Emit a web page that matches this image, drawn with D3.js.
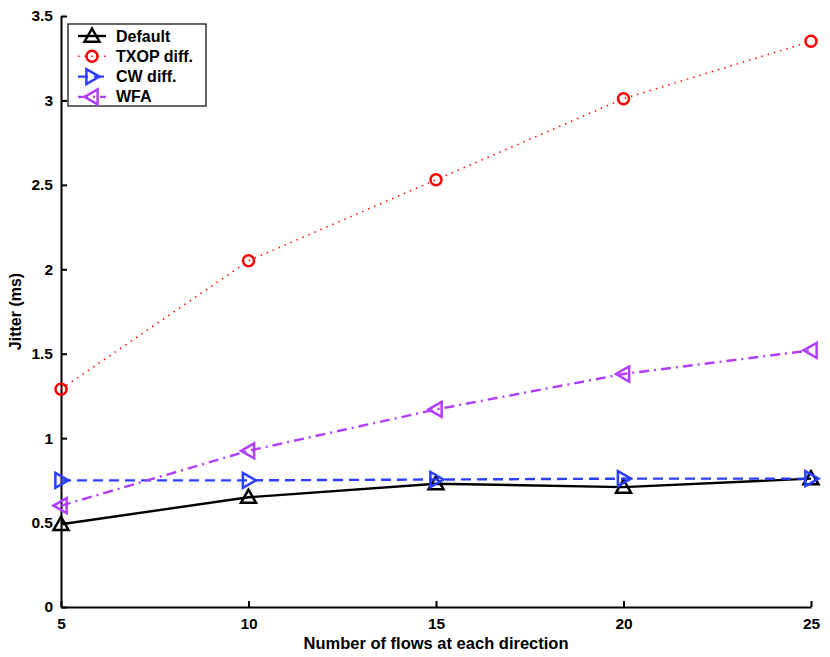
<!DOCTYPE html>
<html>
<head>
<meta charset="utf-8">
<script src="https://cdn.jsdelivr.net/npm/d3@7"></script>
<style>
  body { margin: 0; background: #fff; }
  text { font-family: "Liberation Sans", Arial, sans-serif; font-weight: bold; }
</style>
</head>
<body>
<div id="root"></div>
<script>
// flows per direction
const flows = [5, 10, 15, 20, 25];

const defaultJitter = [0.49, 0.65, 0.73, 0.71, 0.76];
const txopJitter    = [1.29, 2.05, 2.53, 3.01, 3.35];
const cwJitter      = [0.75, 0.75, 0.755, 0.76, 0.76];
const wfaJitter     = [0.60, 0.925, 1.17, 1.38, 1.52];

const yTicks = [0, 0.5, 1, 1.5, 2, 2.5, 3, 3.5];

const series = [
  { name: "Default",    values: defaultJitter, color: "#000000", dash: null,        marker: "up" },
  { name: "TXOP diff.", values: txopJitter,    color: "#ff0000", dash: "1.5,5",     marker: "circle" },
  { name: "CW diff.",   values: cwJitter,      color: "#2a3fff", dash: "10,6",      marker: "right" },
  { name: "WFA",        values: wfaJitter,     color: "#b13dff", dash: "10,5,2,5",  marker: "left" }
];

const width = 830, height = 657;
const margin = { left: 61, right: 19, top: 16, bottom: 50 };

const svg = d3.select('#root').append('svg')
  .attr('width', width)
  .attr('height', height);

const x = d3.scaleLinear().domain([5, 25]).range([margin.left, width - margin.right]);
const y = d3.scaleLinear().domain([0, 3.5]).range([height - margin.bottom, margin.top]);

// axes, ticks pointing in
const xAxis = svg.append('g')
  .attr('transform', 'translate(0,' + y(0) + ')')
  .call(d3.axisBottom(x).tickValues(flows).tickSizeInner(-6).tickSizeOuter(0).tickPadding(11));
const yAxis = svg.append('g')
  .attr('transform', 'translate(' + x(5) + ',0)')
  .call(d3.axisLeft(y).tickValues(yTicks).tickFormat(d3.format('')).tickSizeInner(-6).tickSizeOuter(0).tickPadding(8));

[xAxis, yAxis].forEach(function (a) {
  a.select('.domain').attr('stroke', '#000').attr('stroke-width', 2);
  a.selectAll('.tick line').attr('stroke', '#000').attr('stroke-width', 2);
  a.selectAll('.tick text').attr('fill', '#000').style('font-size', '15.5px');
});

svg.append('text')
  .attr('x', (x(5) + x(25)) / 2)
  .attr('y', 649)
  .attr('text-anchor', 'middle')
  .style('font-size', '16.5px')
  .text('Number of flows at each direction');

svg.append('text')
  .attr('transform', 'translate(21,' + (y(0) + y(3.5)) / 2 + ') rotate(-90)')
  .attr('text-anchor', 'middle')
  .style('font-size', '16px')
  .text('Jitter (ms)');

function drawMarker(g, type, color) {
  const s = 7.5;
  if (type === 'circle') {
    g.append('circle').attr('r', 5.5).attr('fill', 'none').attr('stroke', color).attr('stroke-width', 2.5);
    return;
  }
  let pts;
  if (type === 'up') pts = [[0, -s], [-s, s * 0.75], [s, s * 0.75]];
  if (type === 'right') pts = [[s, 0], [-s * 0.75, -s], [-s * 0.75, s]];
  if (type === 'left') pts = [[-s, 0], [s * 0.75, -s], [s * 0.75, s]];
  g.append('polygon')
    .attr('points', pts.map(function (p) { return p.join(','); }).join(' '))
    .attr('fill', 'none').attr('stroke', color).attr('stroke-width', 2.5)
    .attr('stroke-linejoin', 'miter');
}

const line = d3.line()
  .x(function (d, i) { return x(flows[i]); })
  .y(function (d) { return y(d); });

series.forEach(function (s) {
  svg.append('path')
    .attr('d', line(s.values))
    .attr('fill', 'none')
    .attr('stroke', s.color)
    .attr('stroke-width', s.marker === 'circle' ? 1.5 : 2.4)
    .attr('stroke-dasharray', s.dash);
  s.values.forEach(function (v, i) {
    const g = svg.append('g').attr('transform', 'translate(' + x(flows[i]) + ',' + y(v) + ')');
    drawMarker(g, s.marker, s.color);
  });
});

// legend
const legend = svg.append('g').attr('transform', 'translate(68,24)');
legend.append('rect')
  .attr('width', 138).attr('height', 82)
  .attr('fill', '#fff').attr('stroke', '#000').attr('stroke-width', 1.2);

series.forEach(function (s, i) {
  const ly = 12 + i * 20.3;
  legend.append('line')
    .attr('x1', 10).attr('x2', 38).attr('y1', ly).attr('y2', ly)
    .attr('stroke', s.color)
    .attr('stroke-width', s.marker === 'circle' ? 1.5 : 2.4)
    .attr('stroke-dasharray', s.dash);
  drawMarker(legend.append('g').attr('transform', 'translate(24,' + ly + ')'), s.marker, s.color);
  legend.append('text')
    .attr('x', 48).attr('y', ly + 5.5)
    .style('font-size', '16px')
    .text(s.name);
});
</script>
</body>
</html>
